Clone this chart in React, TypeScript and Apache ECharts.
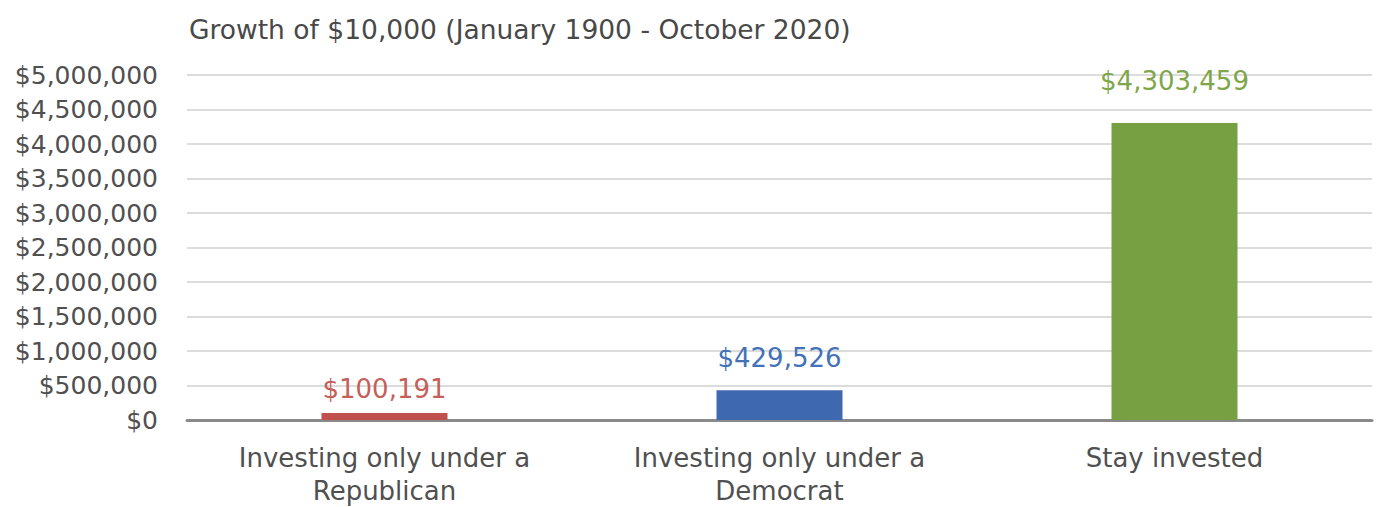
import React, { useEffect, useRef } from "react";
import * as echarts from "echarts";

const categories = ["Investing only under a\nRepublican", "Investing only under a\nDemocrat", "Stay invested"];
const values = [100191, 429526, 4303459];
const barColors = ["#c0504d", "#3e69b1", "#77a043"];
const labelColors = ["#c45f5a", "#4472b8", "#7fa64a"];
const labelDistances = [11, 19, 29];
const title = "Growth of $10,000 (January 1900 - October 2020)";

const fmt = (v: number) => "$" + v.toLocaleString("en-US");

export default function App() {
  const ref = useRef<HTMLDivElement>(null);
  useEffect(() => {
    document.body.style.margin = "0";
    const chart = echarts.init(ref.current!, null, { renderer: "svg" });
    chart.setOption({
      animation: false,
      backgroundColor: "#ffffff",
      textStyle: { fontFamily: "DejaVu Sans" },
      title: {
        text: title,
        left: 184,
        top: 11,
        textStyle: { fontFamily: "DejaVu Sans", fontSize: 26.5, fontWeight: "normal", color: "#484848" },
      },
      grid: { left: 187, right: 8, top: 75, bottom: 86, containLabel: false },
      xAxis: {
        type: "category",
        data: categories,
        axisLine: { lineStyle: { color: "#8a8a8a", width: 3 } },
        axisTick: { show: false },
        axisLabel: {
          fontFamily: "DejaVu Sans",
          fontSize: 26,
          color: "#505050",
          lineHeight: 33,
          margin: 21,
        },
      },
      yAxis: {
        type: "value",
        min: 0,
        max: 5000000,
        interval: 500000,
        axisLine: { show: false },
        axisTick: { show: false },
        splitLine: { lineStyle: { color: "#dcdcdc", width: 2 } },
        axisLabel: {
          fontFamily: "DejaVu Sans",
          fontSize: 25,
          color: "#505050",
          margin: 29,
          formatter: (v: number) => fmt(v),
        },
      },
      series: [
        {
          type: "bar",
          barWidth: 126,
          data: values.map((v, i) => ({
            value: v,
            itemStyle: { color: barColors[i] },
            label: {
              show: true,
              position: "top",
              distance: labelDistances[i],
              color: labelColors[i],
              fontFamily: "DejaVu Sans",
              fontSize: 26,
              formatter: () => fmt(v),
            },
          })),
        },
      ],
    });
    return () => chart.dispose();
  }, []);
  return <div ref={ref} style={{ width: 1380, height: 507 }} />;
}
